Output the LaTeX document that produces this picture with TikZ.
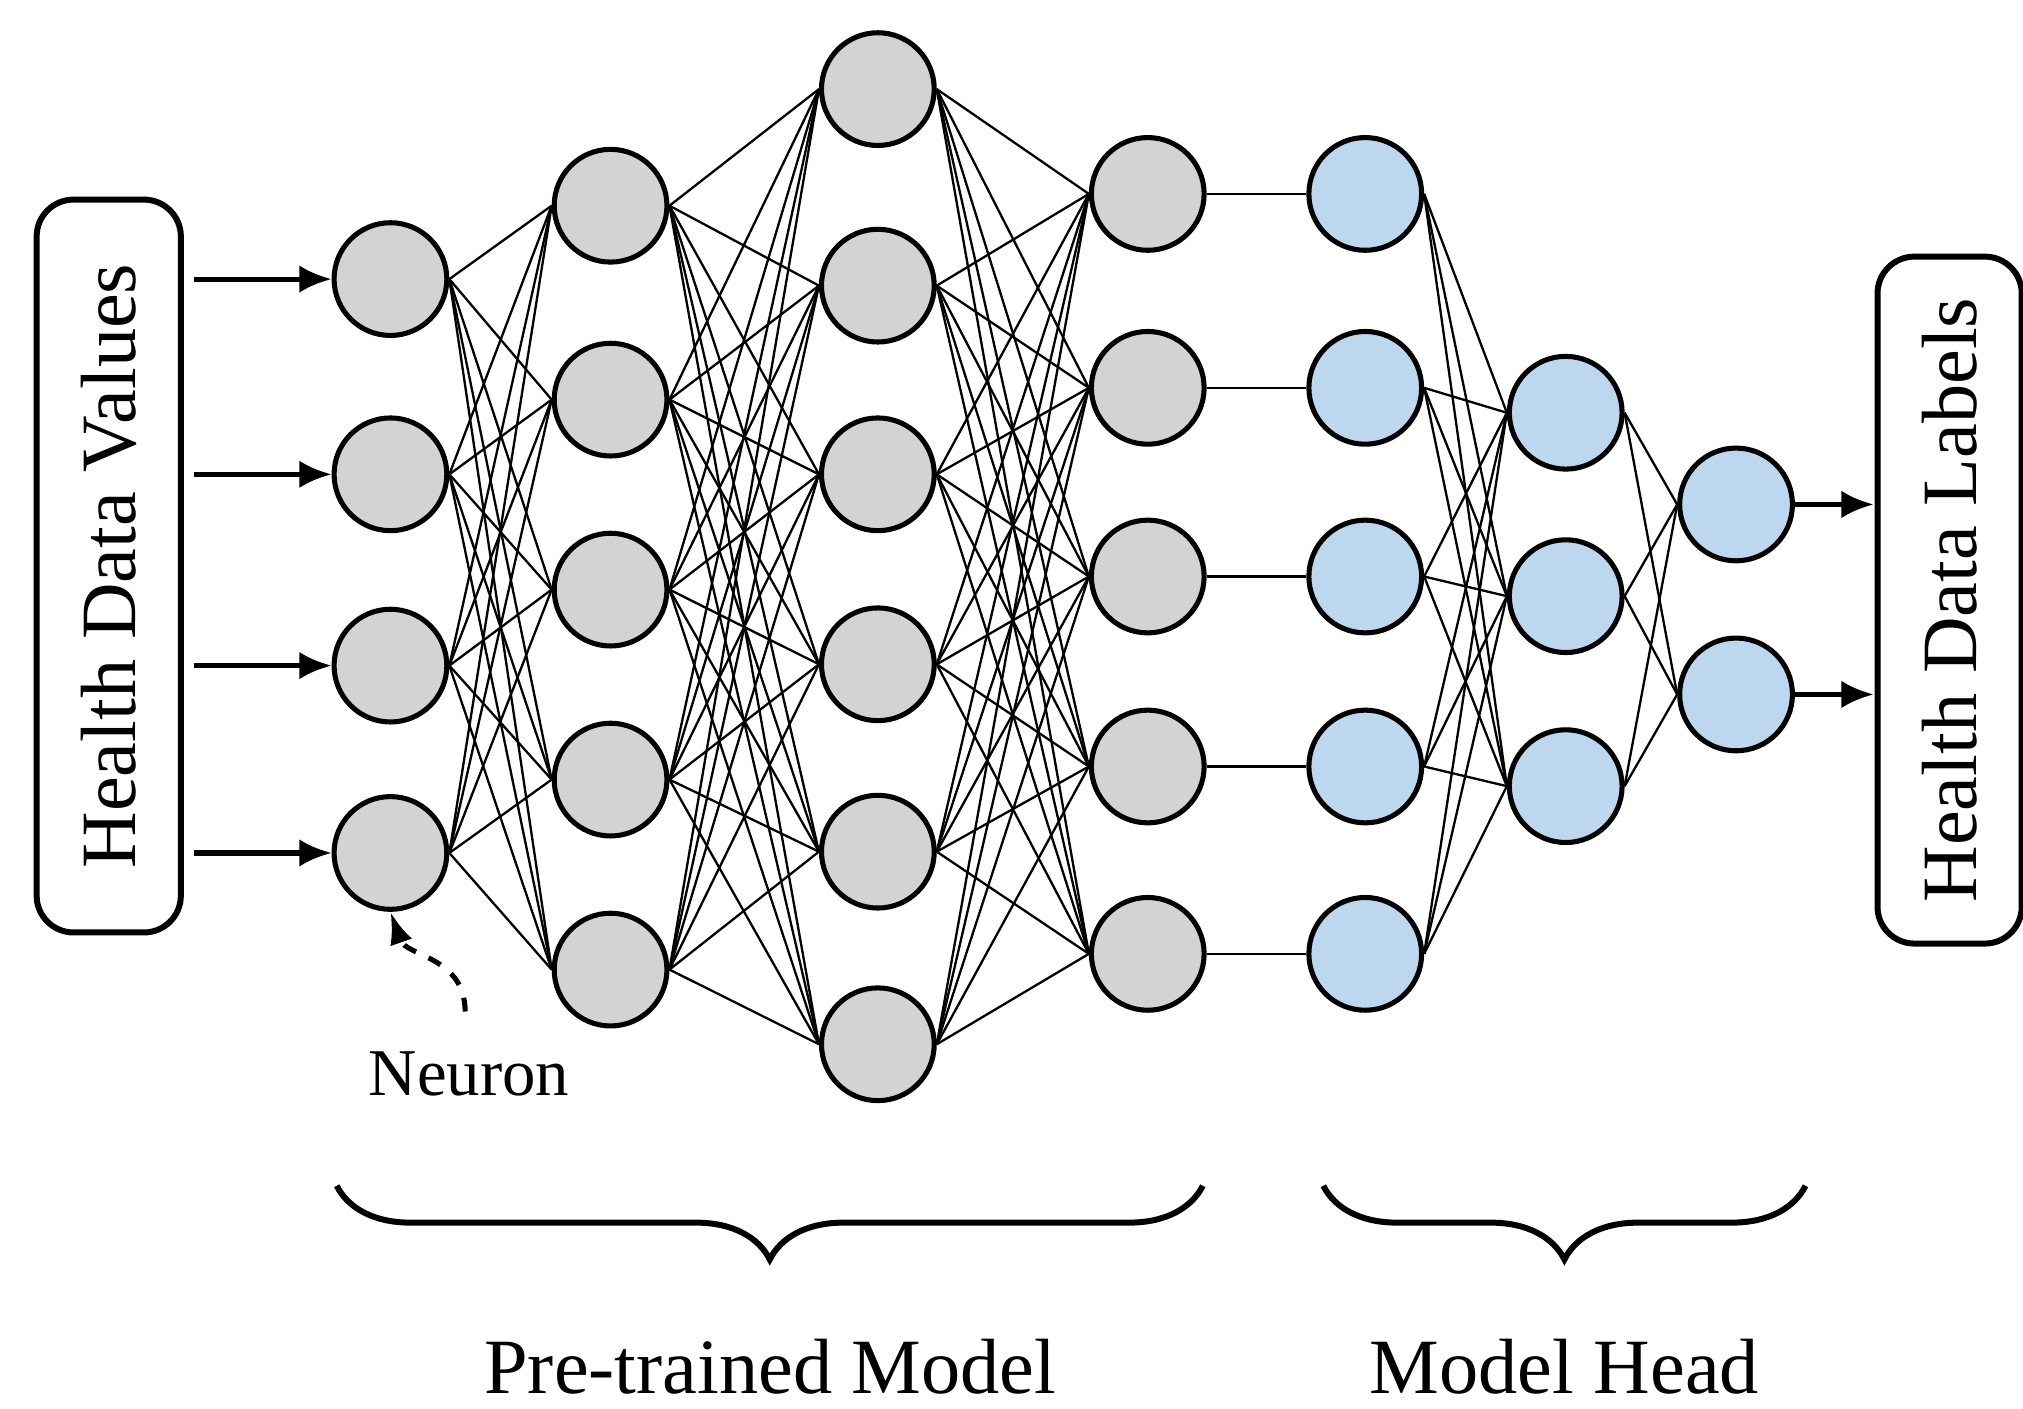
\documentclass[tikz,border=0pt]{standalone}
\usepackage{fontspec}
\setmainfont{Liberation Serif}
\usetikzlibrary{arrows.meta,decorations.pathreplacing}
\begin{document}
\begin{tikzpicture}[x=0.01cm,y=-0.01cm,
  neu/.style={circle,draw=black,line width=1.1pt,minimum size=0.86cm,inner sep=0pt},
  gr/.style={neu,fill={rgb,255:red,211;green,211;blue,211}},
  bl/.style={neu,fill={rgb,255:red,189;green,215;blue,238}},
  con/.style={line width=0.5pt},
  arr/.style={line width=1.1pt,-{Latex[length=7pt,width=6pt]}},
  box/.style={draw,line width=1.3pt,rounded corners=8pt},
  lbl/.style={font=\fontsize{17}{20}\selectfont}]
\useasboundingbox (0,0) rectangle (1544,1075);
\foreach \y [count=\i] in {213,362,508,651} \node[gr] (a\i) at (298,\y) {};
\foreach \y [count=\i] in {157,305,450,595,740} \node[gr] (b\i) at (466,\y) {};
\foreach \y [count=\i] in {68,218,362,507,650,797} \node[gr] (c\i) at (670,\y) {};
\foreach \y [count=\i] in {148,296,440,585,728} \node[gr] (d\i) at (876,\y) {};
\foreach \y [count=\i] in {148,296,440,585,728} \node[bl] (e\i) at (1042,\y) {};
\foreach \y [count=\i] in {315,455,600} \node[bl] (f\i) at (1195,\y) {};
\foreach \y [count=\i] in {385,530} \node[bl] (g\i) at (1325,\y) {};
\foreach \i in {1,...,4} \foreach \j in {1,...,5} \draw[con] (a\i.east) -- (b\j.west);
\foreach \i in {1,...,5} \foreach \j in {1,...,6} \draw[con] (b\i.east) -- (c\j.west);
\foreach \i in {1,...,6} \foreach \j in {1,...,5} \draw[con] (c\i.east) -- (d\j.west);
\foreach \i in {1,...,5} \draw[con] (d\i.east) -- (e\i.west);
\foreach \i in {1,...,5} \foreach \j in {1,...,3} \draw[con] (e\i.east) -- (f\j.west);
\foreach \i in {1,...,3} \foreach \j in {1,...,2} \draw[con] (f\i.east) -- (g\j.west);
\node[box,minimum width=1.1cm,minimum height=5.59cm] (inb) at (83,432) {};
\node[rotate=90,lbl] at (inb.center) {Health Data Values};
\node[box,minimum width=1.1cm,minimum height=5.24cm] (outb) at (1488,458) {};
\node[rotate=90,lbl] at (outb.center) {Health Data Labels};
\foreach \i in {1,...,4} {\coordinate (s\i) at (148,0 |- a\i); \draw[arr] (s\i) -- (a\i.west);}
\foreach \i in {1,2} {\coordinate (t\i) at (1430,0 |- g\i); \draw[arr] (g\i.east) -- (t\i);}
\node[font=\fontsize{14.5}{17}\selectfont] (nl) at (358,820) {Neuron};
\coordinate (nd) at (355,772);
\draw[line width=1.1pt,dashed,-{Latex[length=7pt,width=5pt]}] (nd) .. controls (355,730) and (310,730) .. (a4.south);
\draw[line width=1.3pt,decorate,decoration={brace,mirror,amplitude=16pt}] (257,905) -- (918,905);
\draw[line width=1.3pt,decorate,decoration={brace,mirror,amplitude=16pt}] (1010,905) -- (1378,905);
\node[lbl] (p) at (588,1043) {Pre-trained Model};
\node[lbl] (h) at (1194,1043) {Model Head};
\end{tikzpicture}
\end{document}
